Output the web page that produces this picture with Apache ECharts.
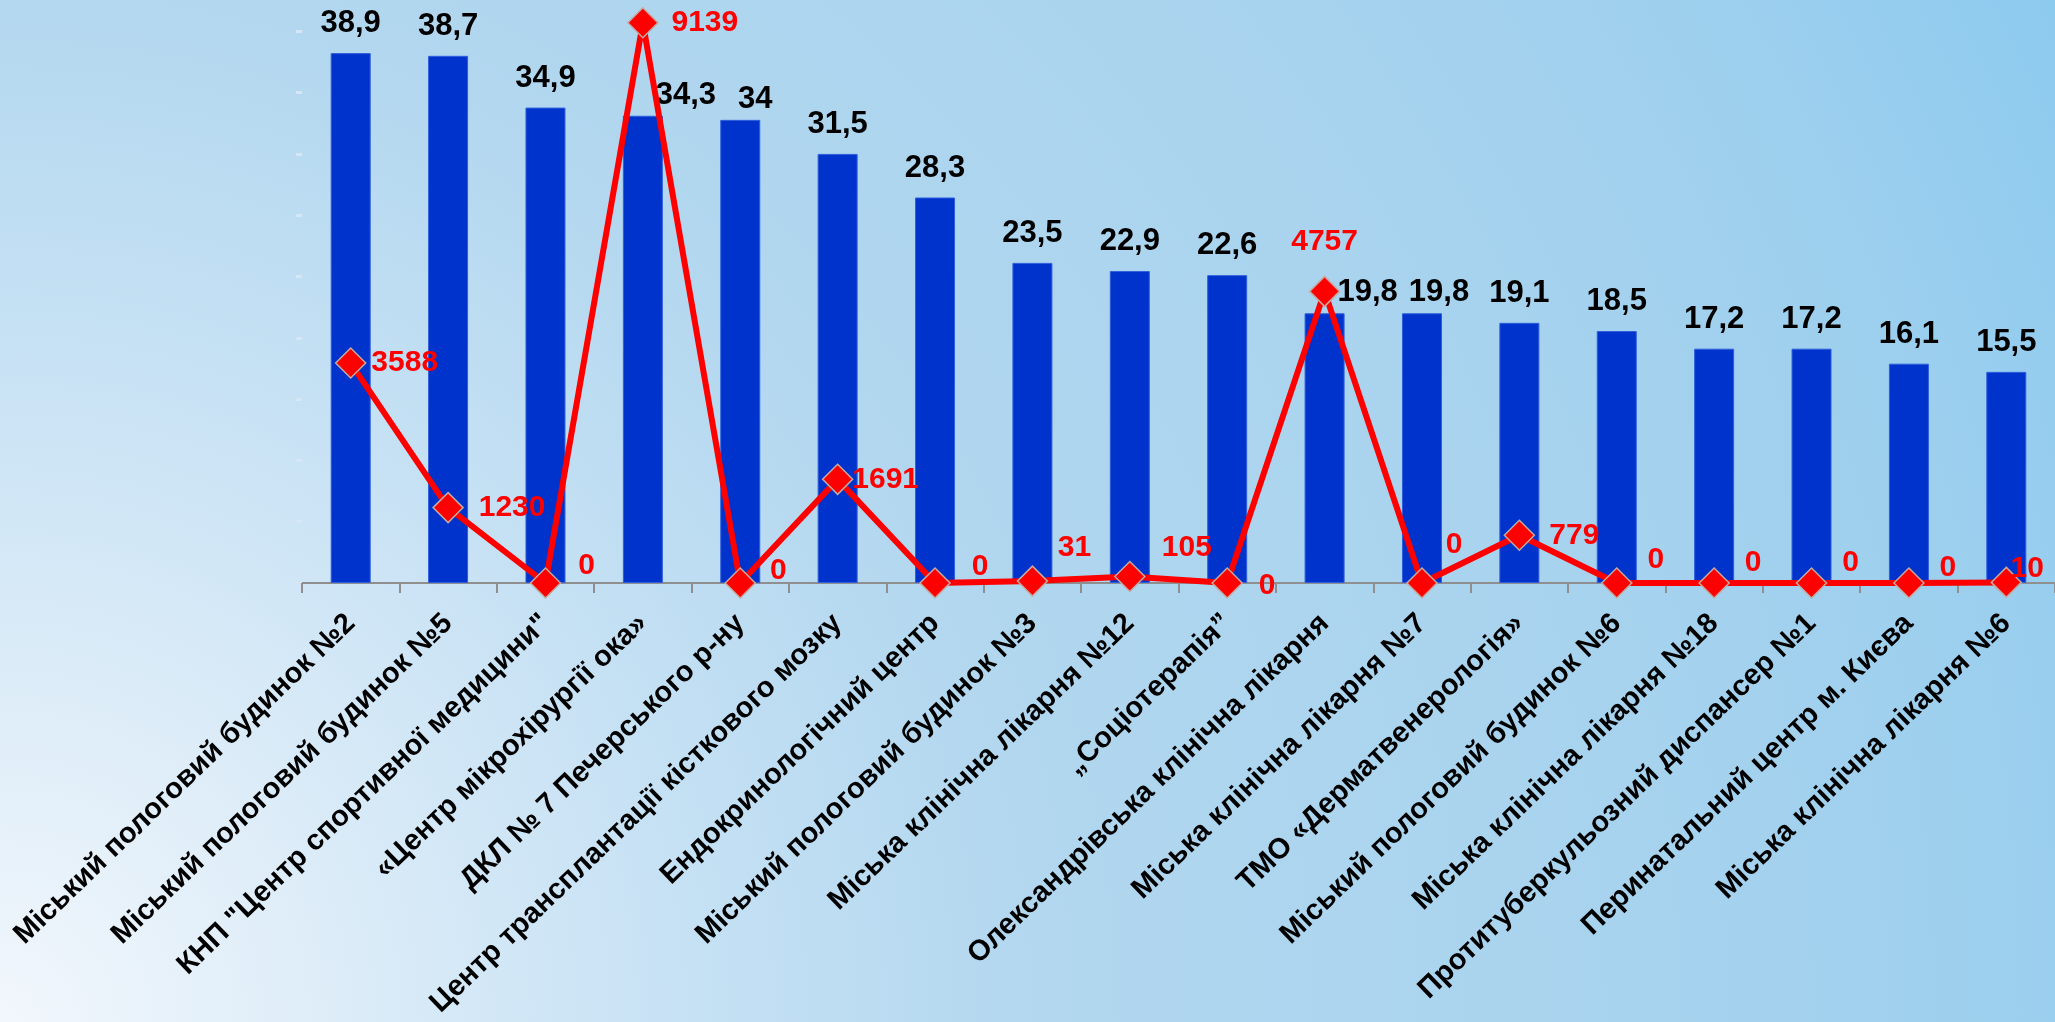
<!DOCTYPE html>
<html>
<head>
<meta charset="utf-8">
<script src="https://cdn.jsdelivr.net/npm/echarts@6/dist/echarts.min.js"></script>
<style>
  html, body { margin: 0; padding: 0; width: 2055px; height: 1022px; overflow: hidden; }
  #chart { width: 2055px; height: 1022px; }
</style>
</head>
<body>
<div id="chart"></div>
<script>
// ---- data ----
const categories = [
  'Міський пологовий будинок №2',
  'Міський пологовий будинок №5',
  'КНП "Центр спортивної медицини"',
  '«Центр мікрохірургії ока»',
  'ДКЛ № 7 Печерського р-ну',
  'Центр трансплантації кісткового мозку',
  'Ендокринологічний центр',
  'Міський пологовий будинок №3',
  'Міська клінічна лікарня №12',
  '„Соціотерапія”',
  'Олександрівська клінічна лікарня',
  'Міська клінічна лікарня №7',
  'ТМО «Дерматвенерологія»',
  'Міський пологовий будинок №6',
  'Міська клінічна лікарня №18',
  'Протитуберкульозний диспансер №1',
  'Перинатальний центр м. Києва',
  'Міська клінічна лікарня №6'
];
const barValues = [38.9, 38.7, 34.9, 34.3, 34, 31.5, 28.3, 23.5, 22.9, 22.6, 19.8, 19.8, 19.1, 18.5, 17.2, 17.2, 16.1, 15.5];
const lineValues = [3588, 1230, 0, 9139, 0, 1691, 0, 31, 105, 0, 4757, 0, 779, 0, 0, 0, 0, 10];

// ---- label placement (styling, kept apart from data) ----
const barLabelOffsets = {3: [43, 9], 4: [15, 9], 10: [43, 9], 11: [17, 9]};
const lineLabelOffsets = [
  [54, 0], [64, 0], [41, -17], [62, 0], [38, -12], [48, 0], [45, -16], [42, -33], [57, -29],
  [40, 3], [0, -50], [32, -38], [55, 0], [39, -23], [39, -20], [39, -20], [39, -15], [21, -14]
];

const FONT = '"Liberation Sans", Arial, sans-serif';

const barData = barValues.map((v, i) => {
  const item = { value: v };
  if (barLabelOffsets[i]) item.label = { offset: barLabelOffsets[i] };
  return item;
});
const lineData = lineValues.map((v, i) => ({
  value: v,
  label: { offset: lineLabelOffsets[i] }
}));

const chart = echarts.init(document.getElementById('chart'), null, { renderer: 'canvas' });
chart.setOption({
  animation: false,
  backgroundColor: {
    type: 'radial', x: 0, y: 1022, r: 2300, global: true,
    colorStops: [
      { offset: 0, color: '#f2f7fc' },
      { offset: 0.15, color: '#dcecf8' },
      { offset: 0.3, color: '#c6e1f4' },
      { offset: 0.45, color: '#b2d7ef' },
      { offset: 0.7, color: '#a8d3ee' },
      { offset: 0.88, color: '#9ccfee' },
      { offset: 1, color: '#8ccaee' }
    ]
  },
  grid: { left: 302, right: 0, top: -30, bottom: 439, containLabel: false, outerBoundsMode: 'none' },
  xAxis: {
    type: 'category',
    data: categories,
    boundaryGap: true,
    axisLine: { show: true, lineStyle: { color: '#8f8f8f', width: 2 } },
    axisTick: { show: true, length: 10, lineStyle: { color: '#8f8f8f', width: 2 } },
    axisLabel: {
      interval: 0,
      rotate: 44,
      margin: 36,
      color: '#000',
      fontFamily: FONT,
      fontSize: 29,
      fontWeight: 'bold'
    }
  },
  yAxis: [
    {
      type: 'value', min: 0, max: 45, interval: 4.5,
      axisLine: { show: false },
      axisTick: { show: true, length: 6, lineStyle: { color: '#d6e6f5', width: 3 } },
      axisLabel: { show: false },
      splitLine: { show: false }
    },
    {
      type: 'value', min: 0, max: 10000, interval: 1000,
      show: false,
      splitLine: { show: false }
    }
  ],
  series: [
    {
      type: 'bar',
      yAxisIndex: 0,
      data: barData,
      barWidth: 40,
      itemStyle: { color: '#0033cc', borderColor: '#2f5fdc', borderWidth: 1 },
      label: {
        show: true,
        position: 'top',
        distance: 14,
        color: '#000',
        fontFamily: FONT,
        fontSize: 31,
        fontWeight: 'bold',
        formatter: p => String(p.value).replace('.', ',')
      },
      z: 2
    },
    {
      type: 'line',
      yAxisIndex: 1,
      data: lineData,
      clip: false,
      symbol: 'diamond',
      symbolSize: 30,
      lineStyle: { color: '#ff0000', width: 6 },
      itemStyle: { color: '#ff0000', borderColor: '#c4aaa2', borderWidth: 1.5 },
      label: {
        show: true,
        position: 'inside',
        color: '#ff0000',
        fontFamily: FONT,
        fontSize: 30,
        fontWeight: 'bold'
      },
      z: 3
    }
  ]
});
</script>
</body>
</html>
